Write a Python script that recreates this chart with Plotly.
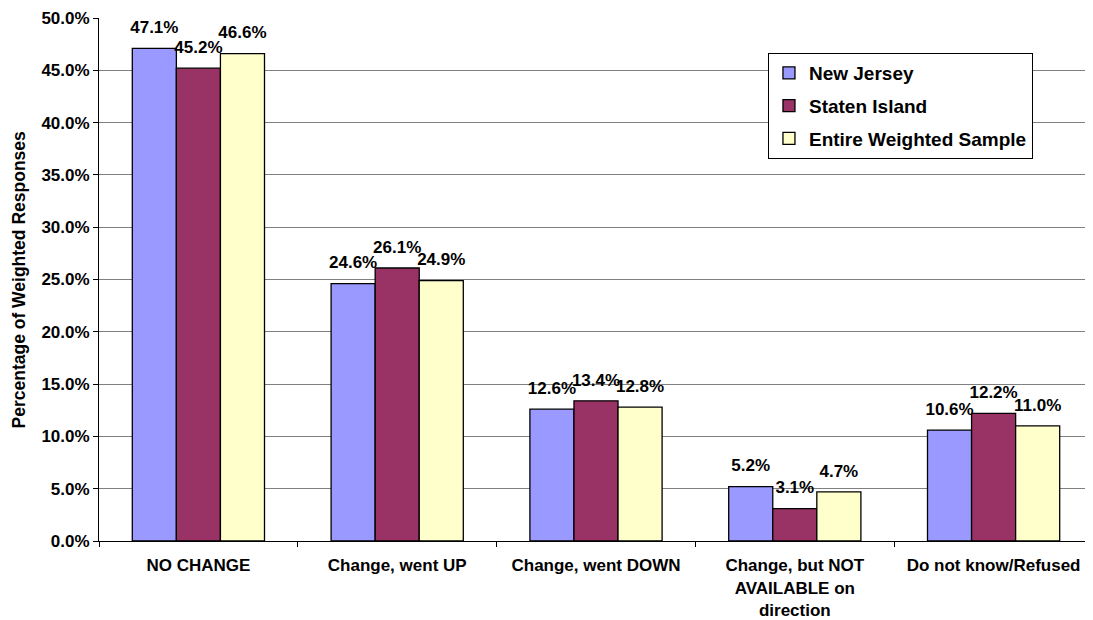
import plotly.graph_objects as go

categories = [
    "NO CHANGE",
    "Change, went UP",
    "Change, went DOWN",
    "Change, but NOT<br>AVAILABLE on<br>direction",
    "Do not know/Refused",
]
new_jersey = [47.1, 24.6, 12.6, 5.2, 10.6]
staten_island = [45.2, 26.1, 13.4, 3.1, 12.2]
entire_sample = [46.6, 24.9, 12.8, 4.7, 11.0]

series = [
    ("New Jersey", new_jersey, "#9999FF"),
    ("Staten Island", staten_island, "#993366"),
    ("Entire Weighted Sample", entire_sample, "#FFFFCC"),
]

FONT = "Arial, Liberation Sans, sans-serif"
GAP = 0.335

fig = go.Figure()
for i, (name, vals, color) in enumerate(series):
    fig.add_trace(go.Bar(
        name=name,
        x=categories,
        y=vals,
        marker=dict(color=color, line=dict(color="black", width=1.3)),
        legendgroup=f"g{i}",
    ))

# value labels, grouped the same way as the bars so they sit over each bar
for i, (name, vals, color) in enumerate(series):
    fig.add_trace(go.Scatter(
        x=categories,
        y=vals,
        mode="markers+text",
        marker=dict(size=16, opacity=0),
        text=[f"{v:.1f}%" for v in vals],
        textposition="top center",
        textfont=dict(family=FONT, size=17, color="black", weight="bold"),
        cliponaxis=False,
        showlegend=False,
        hoverinfo="skip",
    ))

fig.update_layout(
    width=1085,
    height=612,
    paper_bgcolor="white",
    plot_bgcolor="white",
    font=dict(family=FONT, color="black", weight="bold"),
    margin=dict(l=91, r=0, t=10, b=79),
    barmode="group",
    bargap=GAP,
    bargroupgap=0,
    scattermode="group",
    scattergap=GAP,
    showlegend=True,
    legend=dict(
        x=0.673, y=0.933, xanchor="left", yanchor="top",
        bordercolor="black", borderwidth=1, bgcolor="white",
        font=dict(family=FONT, size=19, color="black", weight="bold"),
        traceorder="grouped", tracegroupgap=5,
    ),
    xaxis=dict(
        showline=True, linecolor="black", linewidth=1,
        ticks="outside", tickson="boundaries", ticklen=5, tickcolor="black",
        ticklabelstandoff=9, automargin=False,
        tickfont=dict(family=FONT, size=17, color="black", weight="bold"),
        showgrid=False,
    ),
    yaxis=dict(
        range=[0, 50], dtick=5, tickformat=".1f", ticksuffix="%",
        showline=True, linecolor="black", linewidth=1,
        ticks="outside", ticklen=5, tickcolor="black",
        showgrid=True, gridcolor="#808080", gridwidth=1,
        automargin=False,
        tickfont=dict(family=FONT, size=17, color="black", weight="bold"),
        zeroline=False,
    ),
    annotations=[dict(
        text="Percentage of Weighted Responses",
        textangle=-90, showarrow=False,
        xref="paper", yref="paper", x=-0.0805, y=0.5,
        xanchor="center", yanchor="middle",
        font=dict(family=FONT, size=17.5, color="black", weight="bold"),
    )],
)

fig.write_html("out.html")
